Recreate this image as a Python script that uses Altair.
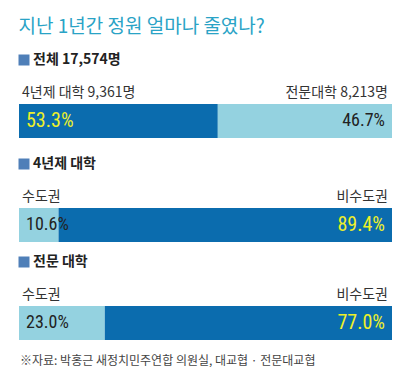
import altair as alt
import pandas as pd

# ---- data ----
title_text = "지난 1년간 정원 얼마나 줄였나?"
headers = ["전체 17,574명", "4년제 대학", "전문 대학"]
left_names = ["4년제 대학 9,361명", "수도권", "수도권"]
right_names = ["전문대학 8,213명", "비수도권", "비수도권"]
left_pct = [53.3, 10.6, 23.0]
right_pct = [46.7, 89.4, 77.0]
left_tone = ["dark", "light", "light"]
source_note = "※자료: 박홍근 새정치민주연합 의원실, 대교협 · 전문대교협"

DARK = "#0b6cae"
LIGHT = "#94d2e0"
YELLOW = "#eef02a"
SQUARE = "#4f7fb8"
KFONT = "Noto Sans CJK KR"
NFONT = "Liberation Sans Narrow, Roboto Condensed, Roboto, sans-serif"

BAR_H = 34
W = 373


def panel(i, with_source=False):
    tones = [left_tone[i], "light" if left_tone[i] == "dark" else "dark"]
    df = pd.DataFrame({
        "row": [headers[i]] * 2,
        "part": ["left", "right"],
        "name": [left_names[i], right_names[i]],
        "pct": [left_pct[i], right_pct[i]],
        "label": [f"{left_pct[i]:.1f}%", f"{right_pct[i]:.1f}%"],
        "tone": tones,
        "order": [0, 1],
        "note": [source_note, source_note],
    })
    base = alt.Chart(df)
    y = alt.Y("row:N", axis=None, scale=alt.Scale(paddingInner=0, paddingOuter=0))
    xs = alt.Scale(domain=[0, 100], nice=False)

    bars = base.mark_bar(stroke=None).encode(
        x=alt.X("pct:Q", stack="zero", axis=None, scale=xs),
        y=y,
        color=alt.Color("tone:N", scale=alt.Scale(domain=["dark", "light"], range=[DARK, LIGHT]), legend=None),
        order=alt.Order("order:Q"),
    )

    col = alt.condition("datum.tone == 'dark'", alt.value(YELLOW), alt.value("#222222"))
    siz = alt.condition("datum.tone == 'dark'", alt.value(20), alt.value(18))

    pct_left = base.transform_filter("datum.part == 'left'").mark_text(
        align="left", baseline="middle", dx=7, font=NFONT
    ).encode(x=alt.datum(0, scale=xs), y=y, text="label:N", color=col, size=siz)

    pct_right = base.transform_filter("datum.part == 'right'").mark_text(
        align="right", baseline="middle", dx=-7, font=NFONT
    ).encode(x=alt.datum(100, scale=xs), y=y, text="label:N", color=col, size=siz)

    name_left = base.transform_filter("datum.part == 'left'").mark_text(
        align="left", baseline="middle", dx=3, dy=-(BAR_H / 2 + 11), font=KFONT, fontSize=14, color="#333333"
    ).encode(x=alt.datum(0, scale=xs), y=y, text="name:N")

    name_right = base.transform_filter("datum.part == 'right'").mark_text(
        align="right", baseline="middle", dx=-4, dy=-(BAR_H / 2 + 11), font=KFONT, fontSize=14, color="#333333"
    ).encode(x=alt.datum(100, scale=xs), y=y, text="name:N")

    head_sq = base.transform_filter("datum.part == 'left'").mark_square(
        size=121, filled=True, color=SQUARE, opacity=1, xOffset=5, yOffset=-(BAR_H / 2 + 44)
    ).encode(x=alt.datum(0, scale=xs), y=y)

    head_txt = base.transform_filter("datum.part == 'left'").mark_text(
        align="left", baseline="middle", dx=14, dy=-(BAR_H / 2 + 44), font=KFONT, fontSize=14,
        fontWeight="bold", color="#222222"
    ).encode(x=alt.datum(0, scale=xs), y=y, text="row:N")

    layers = [bars, pct_left, pct_right, name_left, name_right, head_sq, head_txt]
    if with_source:
        src = base.transform_filter("datum.part == 'left'").mark_text(
            align="left", baseline="middle", dx=1, dy=BAR_H / 2 + 21, font=KFONT, fontSize=12, color="#444444"
        ).encode(x=alt.datum(0, scale=xs), y=y, text="note:N")
        layers.append(src)
    return alt.layer(*layers).properties(width=W, height=BAR_H)


top_two = alt.vconcat(panel(0), panel(1), spacing=19)
chart = alt.vconcat(top_two, panel(2, True), spacing=13).properties(
    title=alt.Title(title_text, anchor="start", fontSize=19, font=KFONT, color="#2aa3c6",
                    fontWeight="normal", offset=16),
    padding={"left": 10, "top": 10, "right": 0, "bottom": 0},
    background="white",
).configure_view(stroke=None)

chart.save("out.html", embed_options={"renderer": "svg", "actions": False})
